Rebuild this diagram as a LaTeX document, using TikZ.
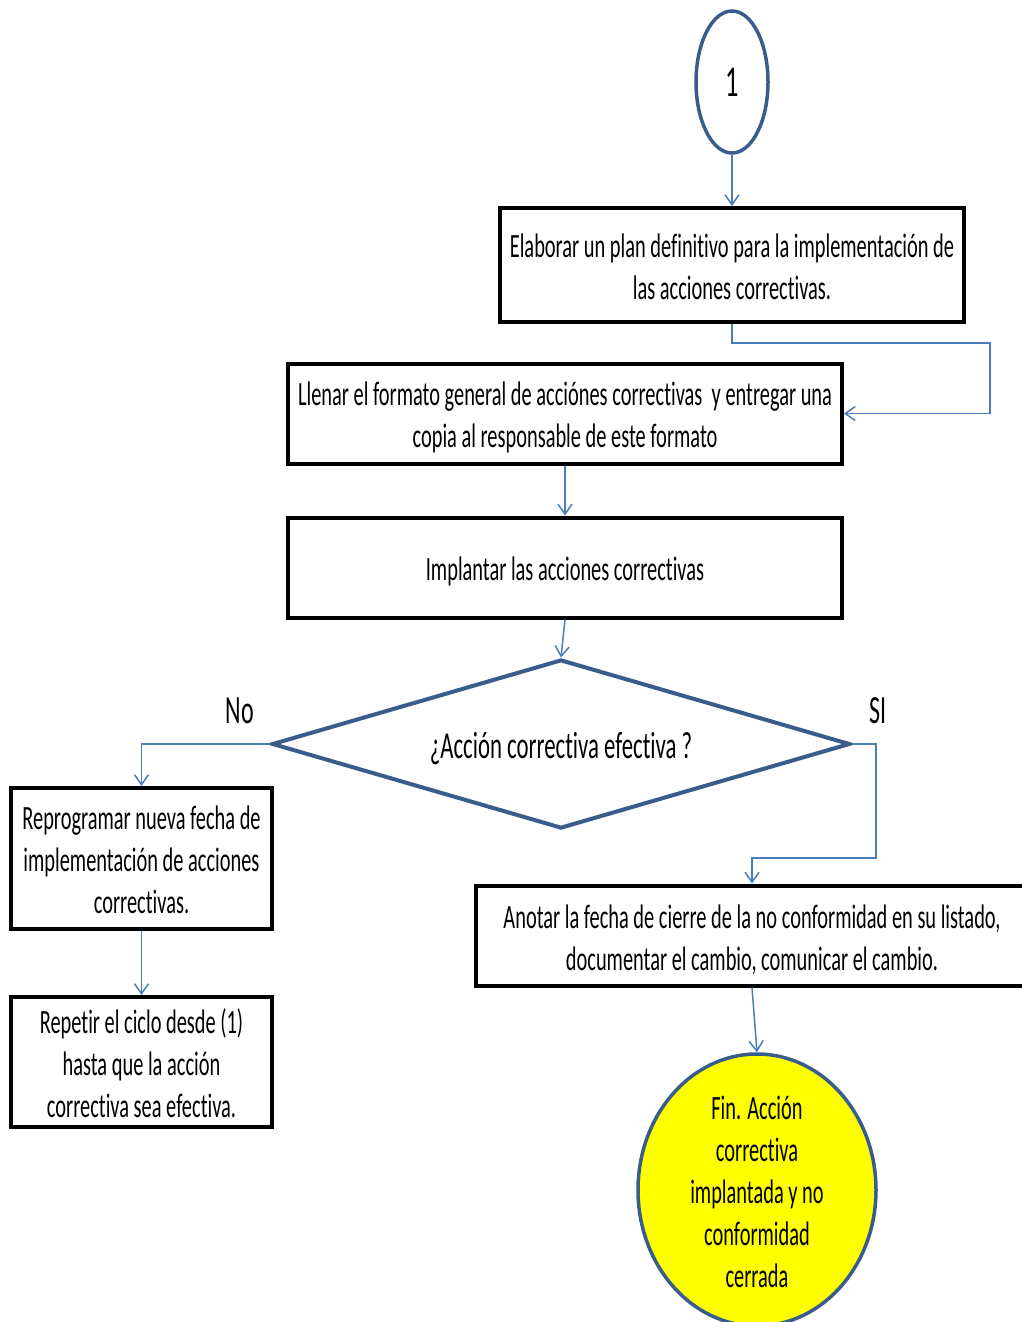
\documentclass[tikz,border=0pt]{standalone}
\usepackage{fontspec}
\setmainfont{Carlito}[FakeStretch=0.6,Ligatures=NoCommon]
\usetikzlibrary{shapes.geometric,arrows.meta}
\definecolor{conn}{RGB}{74,126,187}
\definecolor{edge}{RGB}{56,93,138}
\definecolor{finfill}{RGB}{255,255,0}
\tikzset{
  procbox/.style={draw=black,line width=4pt,rectangle,inner sep=0pt},
  boxtext/.style={align=center,inner sep=0pt,font=\fontsize{34}{42}\selectfont},
  flow/.style={draw=conn,line width=1.5pt,-{Straight Barb[length=10pt,width=14pt,line width=1.5pt]}},
  answer/.style={font=\fontsize{40}{48}\selectfont}
}
\begin{document}
\begin{tikzpicture}[x=1pt,y=-1pt]
\useasboundingbox (0,0) rectangle (1022,1322);
\clip (0,0) rectangle (1022,1322);
\node[draw=edge,line width=3.5pt,ellipse,minimum width=72pt,minimum height=142pt,inner sep=0pt,
  font=\fontsize{44}{50}\selectfont] (one) at (732,82) {1};
\node[procbox,minimum width=464pt,minimum height=114pt,
  label={[boxtext,yshift=-1.5pt]center:Elaborar un plan definitivo para la implementación de\\las acciones correctivas.}]
  (b1) at (732,265) {};
\node[procbox,minimum width=554pt,minimum height=100pt,
  label={[boxtext,yshift=-4pt]center:Llenar el formato general de acciónes correctivas~ y entregar una\\copia al responsable de este formato}]
  (b2) at (565,413.5) {};
\node[procbox,minimum width=554pt,minimum height=100pt,
  label={[boxtext,yshift=-4pt]center:Implantar las acciones correctivas}]
  (b3) at (565,567.5) {};
\node[draw=edge,line width=4pt,diamond,aspect=3.42,minimum width=578pt,minimum height=169pt,inner sep=0pt,
  label={[align=center,inner sep=0pt,font=\fontsize{38}{46}\selectfont,yshift=-5pt]center:¿Acción correctiva efectiva ?}]
  (dec) at (561,744) {};
\node[answer] (no) at (240,711) {No};
\node[answer] (si) at (878,711) {SI};
\node[procbox,minimum width=261pt,minimum height=141pt,
  label={[boxtext,yshift=-1.5pt]center:Reprogramar nueva fecha de\\implementación de acciones\\correctivas.}]
  (b4) at (141.5,858.5) {};
\node[procbox,minimum width=261pt,minimum height=130pt,
  label={[boxtext,yshift=-1.5pt]center:Repetir el ciclo desde (1)\\hasta que la acción\\correctiva sea efectiva.}]
  (b5) at (141.5,1062) {};
\node[procbox,minimum width=552pt,minimum height=100pt,
  label={[boxtext,yshift=-4pt]center:Anotar la fecha de cierre de la no conformidad en su listado,\\documentar el cambio, comunicar el cambio.}]
  (b6) at (752,935.5) {};
\node[draw=edge,fill=finfill,line width=3.5pt,ellipse,minimum width=238pt,minimum height=272pt,inner sep=0pt,
  label={[boxtext,yshift=-1.5pt]center:Fin. Acción\\correctiva\\implantada y no\\conformidad\\cerrada}]
  (fin) at (757,1190) {};
\coordinate (k1) at (990,343);
\coordinate (k3) at (876,858);
\draw[flow] (one.south) -- (b1.north);
\draw[flow] (b1.south) |- (k1) |- (b2.east);
\draw[flow] (b2.south) -- (b3.north);
\draw[flow] (b3.south) -- (dec.north);
\draw[flow] (dec.west) -| (b4.north);
\draw[flow] (b4.south) -- (b5.north);
\draw[flow] (dec.east) -| (k3) -| (b6.north);
\draw[flow] (b6.south) -- (fin.north);
\end{tikzpicture}
\end{document}
